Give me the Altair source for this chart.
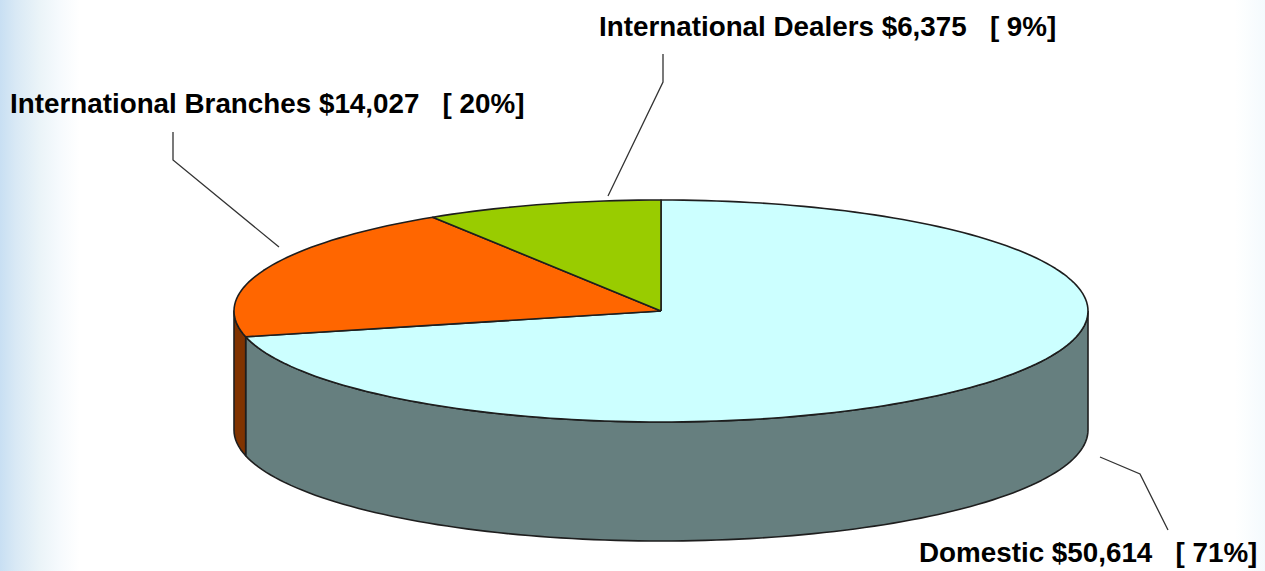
import math
import altair as alt
import pandas as pd

# Sales by channel
channels = ["Domestic", "International Branches", "International Dealers"]
sales = [50614, 14027, 6375]
top_colors = ["#CCFFFF", "#FF6600", "#99CC00"]
side_colors = ["#667F7F", "#803300", "#4D6600"]

# Canvas and tilted-disc geometry
W, H = 1265, 571
CX, CY, RX, RY, DEPTH = 661, 311, 427, 111, 119
OUTLINE = "#1E1E1E"

x_scale = alt.Scale(domain=[0, W], nice=False, zero=False)
y_scale = alt.Scale(domain=[H, 0], nice=False, zero=False)
X = alt.X("x:Q", scale=x_scale, axis=None)
Y = alt.Y("y:Q", scale=y_scale, axis=None)


def rim(theta, drop=0.0):
    """Point on the disc's rim; theta runs clockwise from twelve o'clock, in degrees."""
    t = math.radians(theta)
    return CX + RX * math.sin(t), CY - RY * math.cos(t) + drop


def sweep(a, b, drop=0.0):
    n = max(2, int(abs(b - a) / 1.5) + 1)
    return [rim(a + (b - a) * i / (n - 1), drop) for i in range(n)]


def outline(points, fill, width=1.6):
    closed = points + [points[0]]
    df = pd.DataFrame(
        {"x": [p[0] for p in closed], "y": [p[1] for p in closed], "i": range(len(closed))}
    )
    return (
        alt.Chart(df)
        .mark_line(fill=fill, stroke=OUTLINE, strokeWidth=width, strokeJoin="round")
        .encode(x=X, y=Y, order="i:Q")
    )


def page_tint(x0, x1, stops):
    return (
        alt.Chart(pd.DataFrame({"x": [x0], "x2": [x1], "y": [0], "y2": [H]}))
        .mark_rect(
            fill=alt.Gradient(
                gradient="linear",
                x1=0, x2=1, y1=0, y2=0,
                stops=[alt.GradientStop(offset=o, color=c) for o, c in stops],
            )
        )
        .encode(x=alt.X("x:Q", scale=x_scale, axis=None), x2="x2:Q",
                y=alt.Y("y:Q", scale=y_scale, axis=None), y2="y2:Q")
    )


total = sum(sales)
edges = [0.0]
for v in sales:
    edges.append(edges[-1] + 360.0 * v / total)

# Page tint down both edges, strong on the left and faint on the right
layers = [
    page_tint(0, 80, [(0, "#C8DFF3"), (0.2, "#D9E9F5"), (0.5, "#EBF4F8"),
                      (0.75, "#F6FAFD"), (1, "#FFFFFF")]),
    page_tint(1235, W, [(0, "#FFFFFF"), (1, "#F4FAFD")]),
]

# Visible wall: only the part of each slice on the near half of the rim
for i in range(len(sales)):
    a, b = max(edges[i], 90.0), min(edges[i + 1], 270.0)
    if b > a:
        layers.append(outline(sweep(a, b) + sweep(b, a, DEPTH), side_colors[i]))

# Top surface
for i in range(len(sales)):
    layers.append(outline([(CX, CY)] + sweep(edges[i], edges[i + 1]), top_colors[i]))

# Leader lines
leaders = [
    [(1100, 457), (1140, 474), (1168, 530)],
    [(173, 132), (173, 160), (279, 247)],
    [(663, 54), (663, 82), (608, 196)],
]
for pts in leaders:
    df = pd.DataFrame({"x": [p[0] for p in pts], "y": [p[1] for p in pts], "i": range(len(pts))})
    layers.append(
        alt.Chart(df).mark_line(stroke="#333333", strokeWidth=1.3).encode(x=X, y=Y, order="i:Q")
    )

# Slice labels, built from the sales figures; no-break spaces keep the gap before the share
anchors = [(919, 562), (10, 113), (599, 36)]
GAP = "\u00a0\u00a0\u00a0"
labels = pd.DataFrame(
    {
        "x": [a[0] for a in anchors],
        "y": [a[1] for a in anchors],
        "label": [
            f"{name} ${v:,}{GAP}[ {round(100 * v / total)}%]" for name, v in zip(channels, sales)
        ],
    }
)
layers.append(
    alt.Chart(labels)
    .mark_text(font="Liberation Sans", fontWeight="bold", fontSize=27.8, align="left",
               baseline="alphabetic", color="#000000")
    .encode(x=X, y=Y, text="label:N")
)

chart = (
    alt.layer(*layers)
    .properties(width=W, height=H, padding=0, background="#FFFFFF",
                autosize=alt.AutoSizeParams(type="none"))
    .configure_view(stroke=None)
)

chart.save("out.html", embed_options={"renderer": "svg", "actions": False})
